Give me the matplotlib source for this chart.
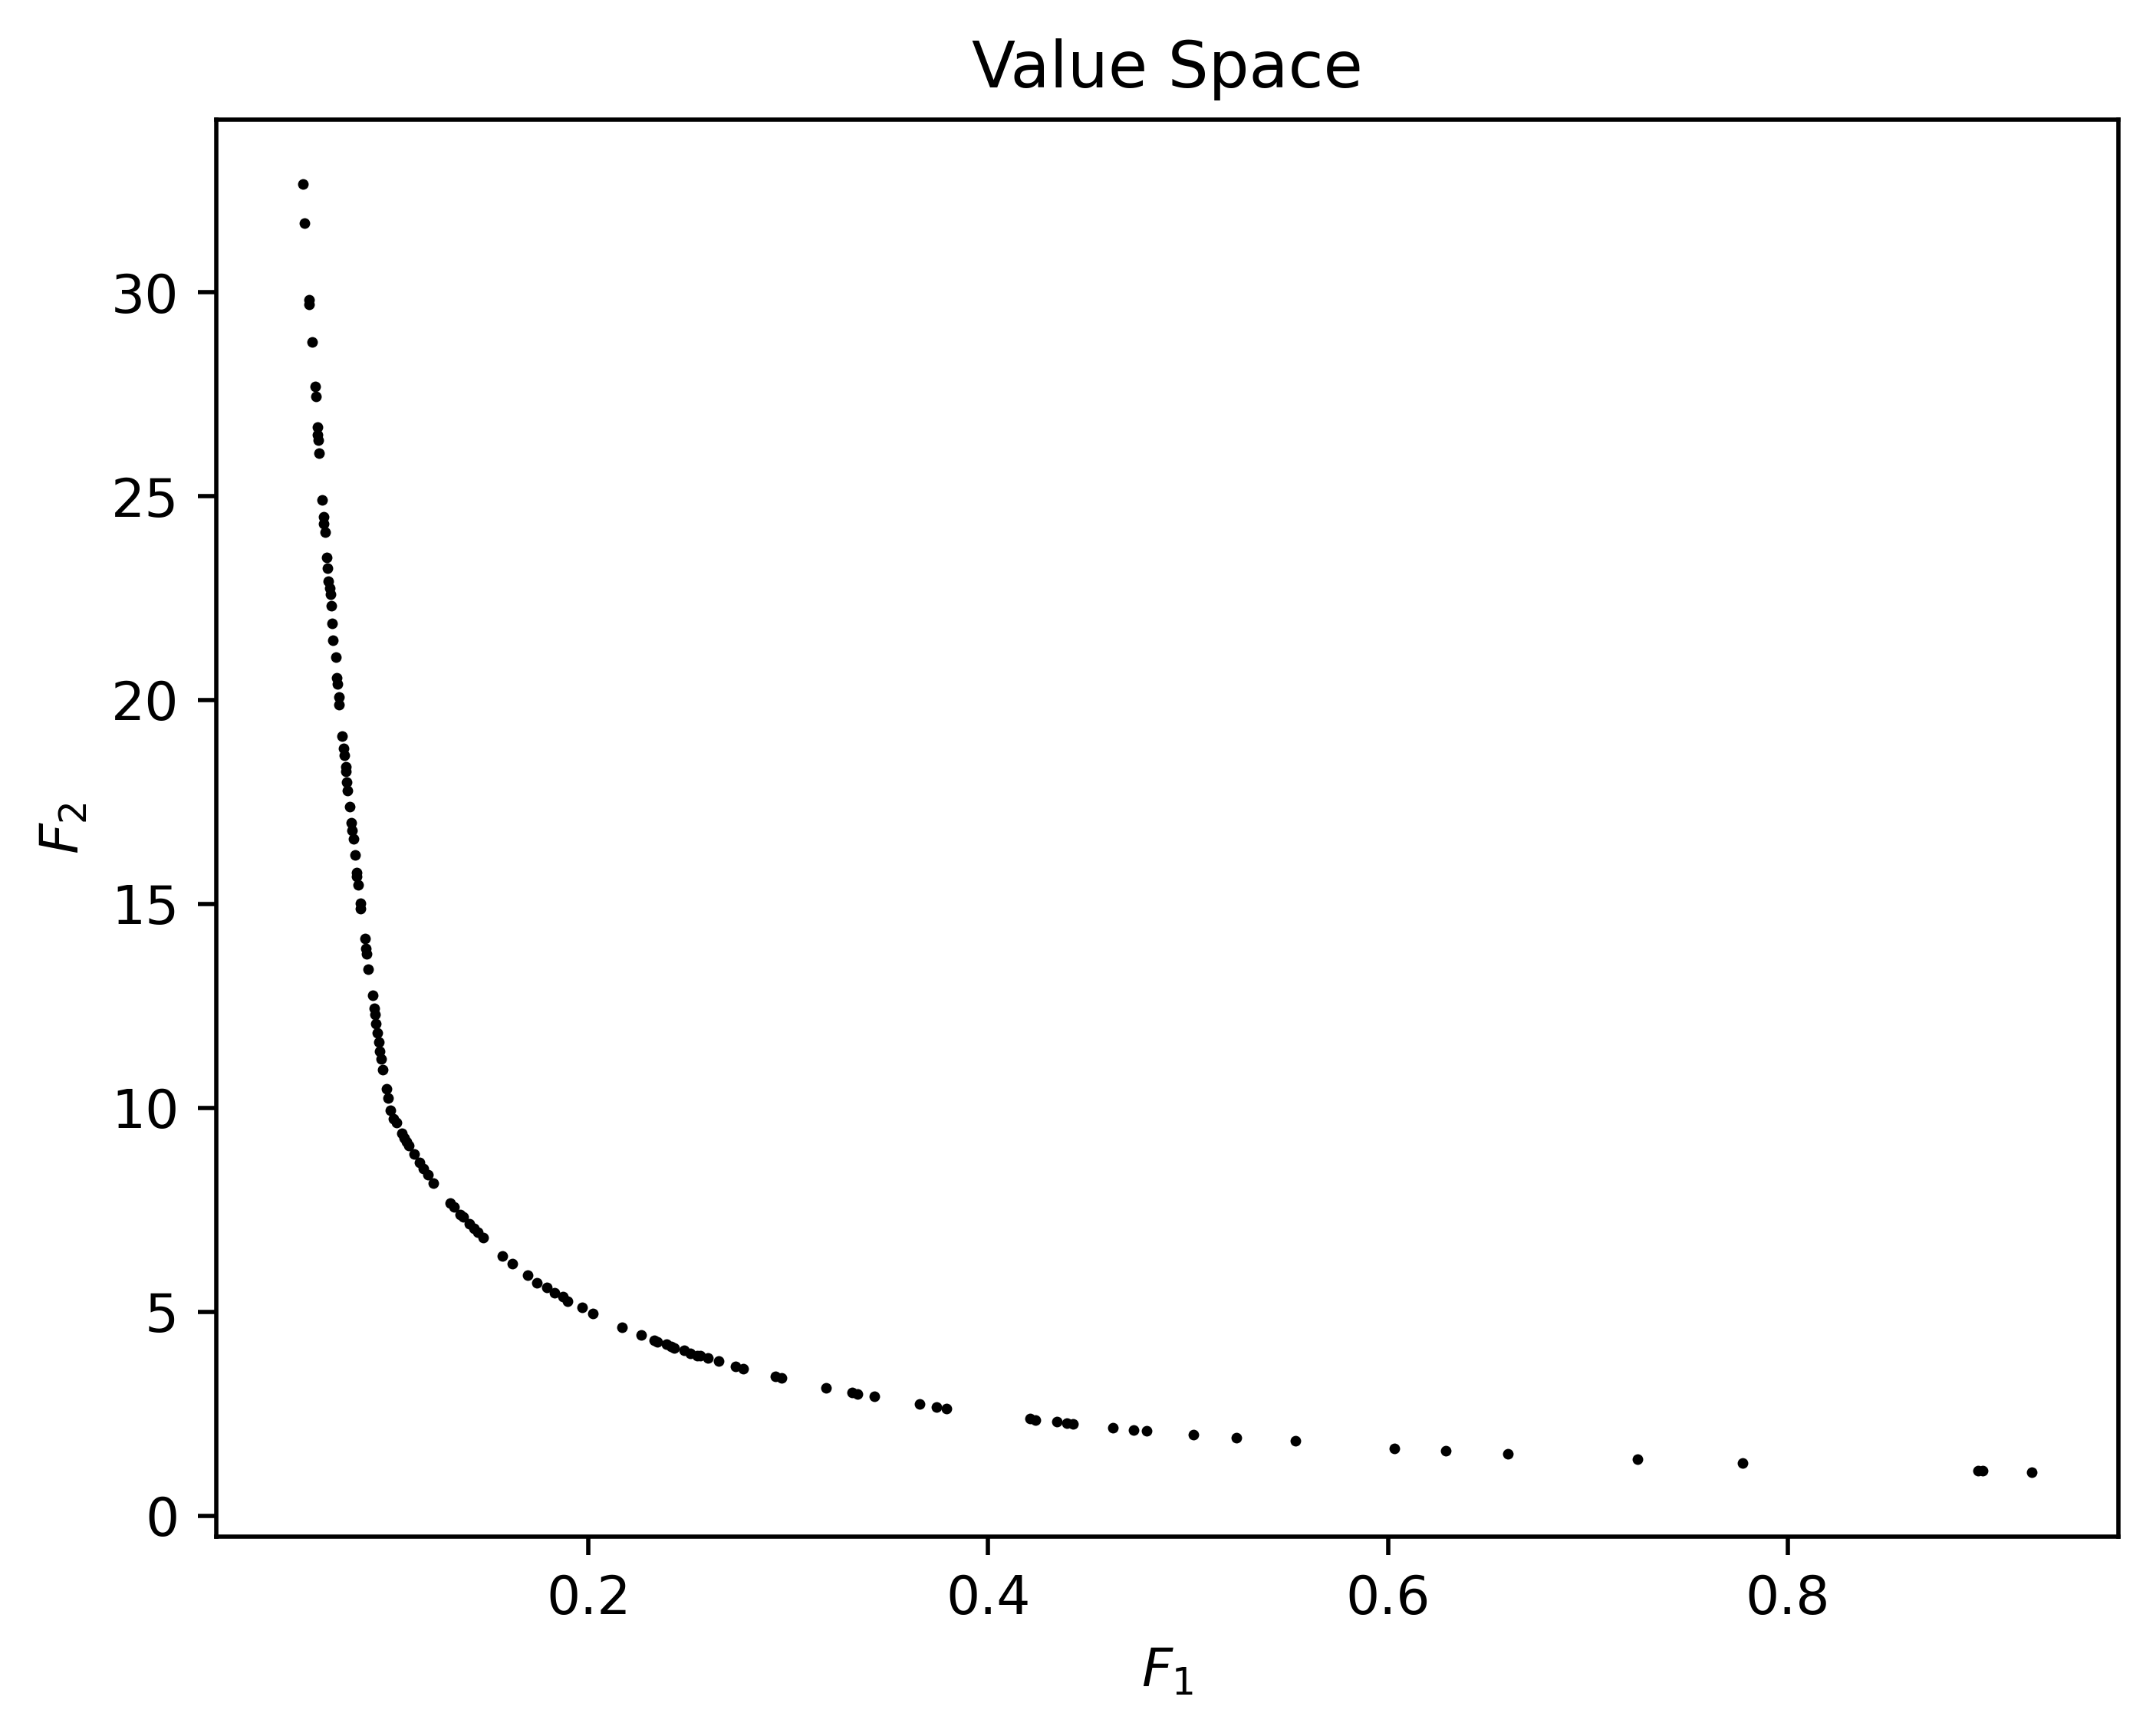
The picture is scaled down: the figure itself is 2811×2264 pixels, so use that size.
import numpy as np
import matplotlib.pyplot as plt

# Pareto front points (F1, F2)
f1 = [0.0569, 0.0580, 0.0603, 0.0603, 0.0615, 0.0630, 0.0634, 0.0642, 0.0645, 0.0649,
      0.0653, 0.0668, 0.0676, 0.0676, 0.0680, 0.0691, 0.0695, 0.0699, 0.0703, 0.0707,
      0.0711, 0.0718, 0.0722, 0.0734,
      0.0740, 0.0744, 0.0749, 0.0752, 0.0768, 0.0775, 0.0776, 0.0784, 0.0785, 0.0790,
      0.0795, 0.0803, 0.0811, 0.0817, 0.0822, 0.0830, 0.0840, 0.0841, 0.0848, 0.0857,
      0.0859, 0.0880, 0.0887, 0.0890, 0.0897, 0.0918, 0.0926, 0.0930, 0.0936, 0.0942,
      0.0949, 0.0956, 0.0962, 0.0969, 0.0987, 0.0995, 0.1008,
      0.1025, 0.1038, 0.1064, 0.1076, 0.1089, 0.1102, 0.1128, 0.1153, 0.1172, 0.1198,
      0.1224, 0.1307, 0.1326, 0.1358, 0.1371, 0.1403, 0.1425, 0.1445, 0.1471, 0.1570,
      0.1620, 0.1697, 0.1742, 0.1793, 0.1831, 0.1870, 0.1895, 0.1966, 0.2023,
      0.2169, 0.2265, 0.2330, 0.2345, 0.2388, 0.2414, 0.2429, 0.2478, 0.2507, 0.2545,
      0.2558, 0.2599, 0.2650, 0.2737, 0.2775, 0.2934, 0.2967,
      0.3188, 0.3318, 0.3344, 0.3432, 0.3658, 0.3742, 0.3790,
      0.4209, 0.4237, 0.4342, 0.4393, 0.4426, 0.4622, 0.4729, 0.4794, 0.5028, 0.5242,
      0.5539,
      0.6032, 0.6290, 0.6600, 0.7251, 0.7776,
      0.8955, 0.8975, 0.9223]

f2 = [32.66, 31.70, 29.82, 29.70, 28.78, 27.68, 27.44, 26.69, 26.50, 26.37,
      26.05, 24.90, 24.49, 24.32, 24.12, 23.49, 23.23, 22.92, 22.74, 22.60,
      22.31, 21.87, 21.47, 21.06,
      20.55, 20.40, 20.08, 19.88, 19.12, 18.81, 18.64, 18.37, 18.24, 17.99,
      17.77, 17.38, 16.98, 16.81, 16.59, 16.20, 15.77, 15.68, 15.46, 15.01,
      14.88, 14.15, 13.91, 13.77, 13.39, 12.75, 12.43, 12.28, 12.06, 11.83,
      11.61, 11.39, 11.20, 10.94, 10.46, 10.23, 9.94,
      9.73, 9.63, 9.38, 9.26, 9.16, 9.07, 8.86, 8.66, 8.50, 8.35,
      8.16, 7.67, 7.56, 7.39, 7.33, 7.15, 7.04, 6.94, 6.81, 6.37,
      6.18, 5.90, 5.71, 5.59, 5.46, 5.37, 5.26, 5.10, 4.96,
      4.61, 4.42, 4.29, 4.26, 4.20, 4.15, 4.11, 4.05, 3.98, 3.93,
      3.92, 3.86, 3.79, 3.65, 3.61, 3.42, 3.38,
      3.13, 3.01, 2.98, 2.92, 2.73, 2.67, 2.63,
      2.376, 2.343, 2.295, 2.275, 2.255, 2.161, 2.100, 2.087, 1.992, 1.911,
      1.830,
      1.655, 1.58, 1.51, 1.375, 1.28,
      1.10, 1.10, 1.07]

fig, ax = plt.subplots()
ax.scatter(f1, f2, s=4, c="black", linewidths=0)
ax.set_title("Value Space")
ax.set_xlabel("$F_1$")
ax.set_ylabel("$F_2$")

plt.savefig("out.png", dpi=500, bbox_inches="tight")
